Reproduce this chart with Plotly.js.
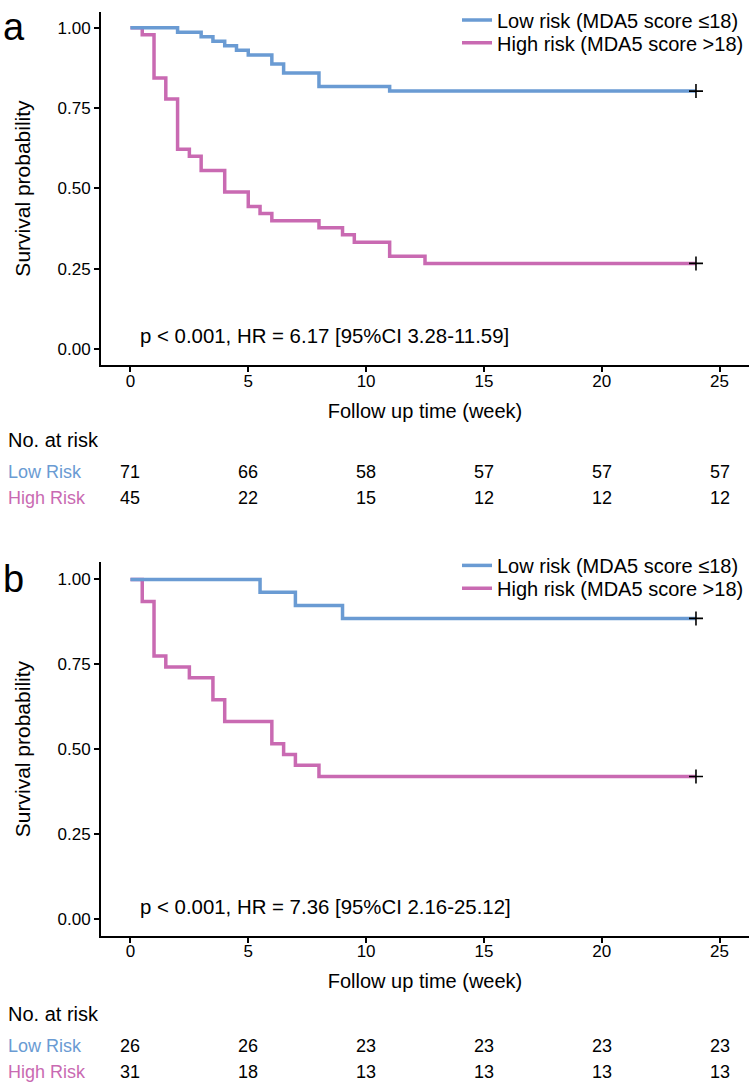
<!DOCTYPE html>
<html>
<head>
<meta charset="utf-8">
<script src="https://cdn.plot.ly/plotly-3.0.1.min.js"></script>
<style>html,body{margin:0;padding:0;background:#fff;}#chart{width:749px;height:1085px;}</style>
</head>
<body>
<div id="chart"></div>
<script>
// ---------- data ----------
// Panel a
const aLowTime  = [0, 2, 3, 3.5, 4, 4.5, 5, 6, 6.5, 8, 11, 24];
const aLowSurv  = [1, 0.986, 0.972, 0.958, 0.944, 0.930, 0.915, 0.887, 0.859, 0.817, 0.803, 0.803];
const aHighTime = [0, 0.5, 1, 1.5, 2, 2.5, 3, 4, 5, 5.5, 6, 8, 9, 9.5, 11, 12.5, 24];
const aHighSurv = [1, 0.978, 0.844, 0.778, 0.622, 0.600, 0.556, 0.489, 0.444, 0.422, 0.400, 0.378, 0.356, 0.333, 0.289, 0.267, 0.267];
// Panel b
const bLowTime  = [0, 5.5, 7, 9, 24];
const bLowSurv  = [1, 0.962, 0.923, 0.885, 0.885];
const bHighTime = [0, 0.5, 1, 1.5, 2.5, 3.5, 4, 6, 6.5, 7, 8, 24];
const bHighSurv = [1, 0.935, 0.774, 0.742, 0.710, 0.645, 0.581, 0.516, 0.484, 0.452, 0.419, 0.419];
// Censor marks (last follow-up)
const censorTime = [24];
// Risk tables
const riskTimes = [0, 5, 10, 15, 20, 25];
const aLowRisk  = [71, 66, 58, 57, 57, 57];
const aHighRisk = [45, 22, 15, 12, 12, 12];
const bLowRisk  = [26, 26, 23, 23, 23, 23];
const bHighRisk = [31, 18, 13, 13, 13, 13];
// Labels
const lowName  = 'Low risk (MDA5 score ≤18)';
const highName = 'High risk (MDA5 score >18)';
const aStat = 'p < 0.001, HR = 6.17 [95%CI 3.28-11.59]';
const bStat = 'p < 0.001, HR = 7.36 [95%CI 2.16-25.12]';
const xTicks = [0, 5, 10, 15, 20, 25];
const yTicks = [0, 0.25, 0.5, 0.75, 1];
const yTickText = ['0.00', '0.25', '0.50', '0.75', '1.00'];

// ---------- style ----------
const BLUE = '#6A9BD3';
const PINK = '#C96AB2';
const FONT = 'Liberation Sans, Arial, sans-serif';
const W = 749, H = 1085;
const py = px => 1 - px / H;   // pixel row -> paper y

function curve(x, y, color, name, xa, ya, leg) {
  return {x: x, y: y, type: 'scatter', mode: 'lines', line: {shape: 'hv', color: color, width: 3.5},
          name: name, xaxis: xa, yaxis: ya, legend: leg, hoverinfo: 'skip'};
}
function censor(t, s, xa, ya) {
  return {x: t, y: s, type: 'scatter', mode: 'markers', xaxis: xa, yaxis: ya, showlegend: false,
          marker: {symbol: 'cross-thin', size: 10, line: {width: 1.6, color: '#000'}, color: '#000'}, hoverinfo: 'skip'};
}

const traces = [
  curve(aHighTime, aHighSurv, PINK, highName, 'x', 'y', 'legend2'),
  curve(aLowTime, aLowSurv, BLUE, lowName, 'x', 'y', 'legend'),
  censor(censorTime, [aLowSurv[aLowSurv.length - 1]], 'x', 'y'),
  censor(censorTime, [aHighSurv[aHighSurv.length - 1]], 'x', 'y'),
  curve(bHighTime, bHighSurv, PINK, highName, 'x2', 'y2', 'legend4'),
  curve(bLowTime, bLowSurv, BLUE, lowName, 'x2', 'y2', 'legend3'),
  censor(censorTime, [bLowSurv[bLowSurv.length - 1]], 'x2', 'y2'),
  censor(censorTime, [bHighSurv[bHighSurv.length - 1]], 'x2', 'y2')
];

function xAxis(domainAnchor) {
  return {domain: [101 / W, 1], range: [-1.25, 26.25], anchor: domainAnchor, showline: true, linewidth: 2,
          linecolor: '#000', ticks: 'outside', ticklen: 5, tickwidth: 2, tickcolor: '#000', tickvals: xTicks,
          ticklabelstandoff: -6,
          showgrid: false, zeroline: false, tickfont: {size: 17, color: '#000', family: FONT},
          title: {text: 'Follow up time (week)', font: {size: 20, color: '#000', family: FONT}, standoff: 14}};
}
function yAxis(dom, domainAnchor) {
  return {domain: dom, range: [-0.05, 1.05], anchor: domainAnchor, showline: true, linewidth: 2,
          linecolor: '#000', ticks: 'outside', ticklen: 5, tickwidth: 2, tickcolor: '#000',
          tickvals: yTicks, ticktext: yTickText, showgrid: false, zeroline: false,
          tickfont: {size: 17, color: '#000', family: FONT},
          title: {text: 'Survival probability', font: {size: 21, color: '#000', family: FONT}, standoff: 21}};
}

const annotations = [];
function txt(text, x, y, xref, opts) {
  annotations.push(Object.assign({text: text, x: x, y: y, xref: xref, yref: 'paper', showarrow: false,
    xanchor: 'center', yanchor: 'middle', font: {size: 18, color: '#000', family: FONT}}, opts || {}));
}
// panel letters
txt('a', 1 / W, py(22), 'paper', {xanchor: 'left', font: {size: 38, color: '#000', family: FONT}});
txt('b', 1 / W, py(577), 'paper', {xanchor: 'left', font: {size: 38, color: '#000', family: FONT}});
// stats
txt(aStat, 138 / W, py(333), 'paper', {xanchor: 'left', font: {size: 20.4, color: '#000', family: FONT}});
txt(bStat, 138 / W, py(906), 'paper', {xanchor: 'left', font: {size: 20.4, color: '#000', family: FONT}});
// risk tables
function riskTable(xref, yHead, yLow, yHigh, low, high) {
  txt('No. at risk', 6 / W, py(yHead), 'paper', {xanchor: 'left', font: {size: 20, color: '#000', family: FONT}});
  txt('Low Risk', 6 / W, py(yLow), 'paper', {xanchor: 'left', font: {size: 18, color: BLUE, family: FONT}});
  txt('High Risk', 6 / W, py(yHigh), 'paper', {xanchor: 'left', font: {size: 18, color: PINK, family: FONT}});
  riskTimes.forEach((t, i) => {
    txt(String(low[i]), t, py(yLow), xref);
    txt(String(high[i]), t, py(yHigh), xref);
  });
}
riskTable('x', 437, 469, 495, aLowRisk, aHighRisk);
riskTable('x2', 1014, 1046, 1072, bLowRisk, bHighRisk);

function leg(yPx) {
  return {x: 457 / W, y: py(yPx), xanchor: 'left', yanchor: 'middle', bgcolor: 'rgba(0,0,0,0)',
          font: {size: 20, color: '#000', family: FONT}, itemwidth: 30};
}

const layout = {
  width: W, height: H, margin: {l: 0, r: 0, t: 0, b: 0},
  paper_bgcolor: '#fff', plot_bgcolor: '#fff', font: {family: FONT, color: '#000'},
  xaxis: xAxis('y'), yaxis: yAxis([py(362), py(6.7)], 'x'),
  xaxis2: xAxis('y2'), yaxis2: yAxis([py(935), py(560)], 'x2'),
  legend: leg(15), legend2: leg(38), legend3: leg(563), legend4: leg(586),
  annotations: annotations,
  showlegend: true
};

Plotly.newPlot('chart', traces, layout, {displayModeBar: false, staticPlot: true});
</script>
</body>
</html>
